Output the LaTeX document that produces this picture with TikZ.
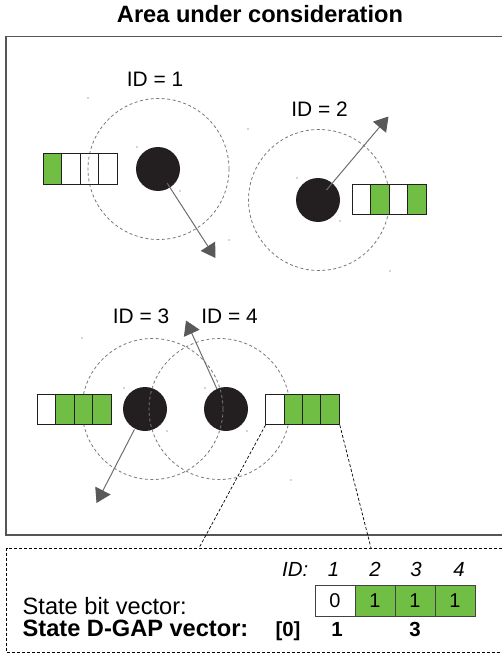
\documentclass[tikz,border=0pt]{standalone}
\usepackage{fontspec}
\setmainfont{Liberation Sans}
\usetikzlibrary{arrows.meta}
\definecolor{vgreen}{HTML}{70BF44}
\definecolor{discblack}{HTML}{231F20}
\definecolor{arrgray}{HTML}{6D6E70}
\definecolor{headgray}{HTML}{58595B}
\definecolor{rangegray}{HTML}{7A7A7A}
\definecolor{framegray}{HTML}{555555}
\begin{document}
\begin{tikzpicture}[x=1bp,y=-1bp,
  titletext/.style={font=\fontsize{23.7}{26}\selectfont\bfseries, inner sep=0},
  idlabel/.style={font=\fontsize{21}{24}\selectfont, inner sep=0, anchor=base},
  areaframe/.style={draw=framegray, line width=1.3bp},
  zoombox/.style={draw=black, line width=0.8bp, dash pattern=on 3bp off 2bp},
  nodedisc/.style={circle, fill=discblack, minimum size=44bp, inner sep=0},
  rangecirc/.style={circle, draw=rangegray, line width=0.8bp, dash pattern=on 3bp off 2.5bp, minimum size=141bp, inner sep=0},
  vcell/.style={draw=discblack, line width=0.9bp, minimum width=18.6bp, minimum height=30.5bp, inner sep=0},
  bcell/.style={draw=discblack!85, line width=0.9bp, minimum width=40bp, minimum height=31bp, inner sep=0, font=\fontsize{20}{22}\selectfont},
  movearr/.style={draw=arrgray, line width=1bp, -{Triangle[length=14bp,width=17bp,fill=headgray,color=headgray]}},
  zline/.style={draw=black, line width=0.7bp, dash pattern=on 3bp off 2bp},
  handledot/.style={fill=black!70, inner sep=0, minimum size=1.2bp, circle},
  headtext/.style={font=\fontsize{20.5}{23}\selectfont\itshape, inner sep=0, anchor=base},
  statetext/.style={font=\fontsize{23.7}{26}\selectfont, inner sep=0, anchor=base west},
  gaptext/.style={font=\fontsize{20.5}{23}\selectfont\bfseries, inner sep=0, anchor=base}
]
\useasboundingbox (0,0) rectangle (502,655);
\fill[white] (0,0) rectangle (502,655);

% title and frames
\node[titletext, anchor=base] (title) at (260,23) {Area under consideration};
\draw[areaframe] (512,36.5) -- (6,36.5) -- (6,535) -- (512,535);
\draw[zoombox] (512,548) -- (6.5,548) -- (6.5,652.5) -- (512,652.5);

% discs
\node[nodedisc] (d1) at (158,169) {};
\node[nodedisc] (d2) at (318,200) {};
\node[nodedisc] (d3) at (145,409) {};
\node[nodedisc] (d4) at (226,409) {};

% communication ranges
\node[rangecirc] (r1) at (158.5,169) {};
\node[rangecirc] (r2) at (319,200) {};
\node[rangecirc] (r3) at (152.5,409) {};
\node[rangecirc] (r4) at (219.5,409) {};

% tiny handle dots
\foreach \p [count=\k] in {(88,98),(229,240),(137,147),(180,191),(248,129),(390,271),(297,178),(340,221),(82,338),(291,480),(124,388),(167,431),(205,388),(247,431)}
  \node[handledot] (h\k) at \p {};

% vector ID 1
\node[vcell,fill=vgreen] (v1a) at (52.3,169) {};
\node[vcell] (v1b) at (70.9,169) {};
\node[vcell] (v1c) at (89.5,169) {};
\node[vcell] (v1d) at (108.1,169) {};
% vector ID 2
\node[vcell,fill=white] (v2a) at (361.3,199.5) {};
\node[vcell,fill=vgreen] (v2b) at (379.8,199.5) {};
\node[vcell,fill=white] (v2c) at (398.3,199.5) {};
\node[vcell,fill=vgreen] (v2d) at (416.8,199.5) {};
% vector ID 3
\node[vcell,fill=white] (v3a) at (46.3,409.5) {};
\node[vcell,fill=vgreen] (v3b) at (64.8,409.5) {};
\node[vcell,fill=vgreen] (v3c) at (83.3,409.5) {};
\node[vcell,fill=vgreen] (v3d) at (101.8,409.5) {};
% vector ID 4
\node[vcell,fill=white] (v4a) at (275.2,409.5) {};
\node[vcell,fill=vgreen] (v4b) at (293.5,409.5) {};
\node[vcell,fill=vgreen] (v4c) at (311.8,409.5) {};
\node[vcell,fill=vgreen] (v4d) at (330.1,409.5) {};

% labels
\node[idlabel] (l1) at (155,86.5) {ID = 1};
\node[idlabel] (l2) at (319.5,117) {ID = 2};
\node[idlabel] (l3) at (141,323) {ID = 3};
\node[idlabel] (l4) at (229.5,323) {ID = 4};

% movement arrows
\coordinate (t1) at (215.5,258);
\coordinate (t2) at (388.5,116.5);
\coordinate (t3) at (96.5,503);
\coordinate (t4) at (186,320.5);
\draw[movearr, shorten <=17bp] (d1.center) -- (t1);
\draw[movearr, shorten <=13bp] (d2.center) -- (t2);
\draw[movearr, shorten <=23bp] (d3.center) -- (t3);
\draw[movearr, shorten <=22bp] (d4.center) -- (t4);

% zoom lines
\coordinate (z1) at (199,548);
\coordinate (z2) at (371,548);
\draw[zline] (v4a.south west) -- (z1);
\draw[zline] (v4d.south east) -- (z2);

% bottom panel
\node[headtext, anchor=base east] (idh) at (308.5,576) {ID:};
\node[headtext] (i1) at (333.5,576) {1};
\node[headtext] (i2) at (375,576) {2};
\node[headtext] (i3) at (416,576) {3};
\node[headtext] (i4) at (459,576) {4};

\node[bcell,fill=white] (b1) at (335,600.5) {0};
\node[bcell,fill=vgreen] (b2) at (375,600.5) {1};
\node[bcell,fill=vgreen] (b3) at (415,600.5) {1};
\node[bcell,fill=vgreen] (b4) at (455,600.5) {1};

\node[statetext] (s1) at (22.5,614) {State bit vector:};
\node[statetext, font=\fontsize{23.7}{26}\selectfont\bfseries] (s2) at (22.5,636) {State D-GAP vector:};
\node[gaptext] (g0) at (288,636) {[0]};
\node[gaptext] (g1) at (337,636) {1};
\node[gaptext] (g3) at (415,636) {3};
\end{tikzpicture}
\end{document}
